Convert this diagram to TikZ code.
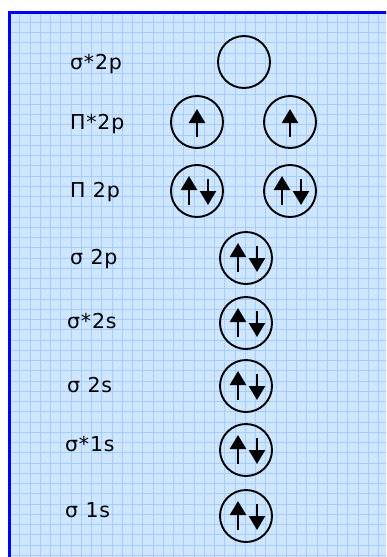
\documentclass[tikz,border=0pt]{standalone}
\usepackage{fontspec}
\setmainfont{DejaVu Sans}
\newfontfamily\levelfont[LetterSpace=4]{DejaVu Sans}
\usetikzlibrary{positioning,arrows.meta,calc}
\definecolor{paper}{RGB}{206,230,255}
\definecolor{gridline}{RGB}{165,205,255}
\definecolor{frameblue}{RGB}{0,0,255}
\tikzset{
  orbital/.style   = {draw=black, circle, line width=1.9pt,
                      minimum size=52pt, inner sep=0pt},
  level/.style     = {anchor=base west, inner sep=0pt,
                      font=\levelfont\fontsize{20.5}{24}\selectfont, text=black},
  spin/.style      = {line width=2.4pt,
                      -{Triangle[length=14pt,width=16pt]}}
}
% one electron (up) or a pair (up + down) inside an orbital
\newcommand{\upspin}[1]{%
  \draw[spin] ($(#1)+(0,15)$) -- ($(#1)+(0,-13)$);}
\newcommand{\pairspin}[1]{%
  \draw[spin] ($(#1)+(-8,14)$) -- ($(#1)+(-8,-15)$);
  \draw[spin] ($(#1)+(11,-12)$) -- ($(#1)+(11,14)$);}

\begin{document}
\begin{tikzpicture}[x=1pt,y=-1pt]

  % page and the squared paper
  \useasboundingbox (0,0) rectangle (386,557);
  \begin{scope}
    \clip (0,0) rectangle (386,557);
    \fill[paper] (9.5,12) rectangle (400,570);
    \foreach \k in {1,...,37}
      \draw[gridline, line width=1pt] ({9.5+10.25*\k},12) -- ({9.5+10.25*\k},570);
    \foreach \k in {1,...,54}
      \draw[gridline, line width=1pt] (9.5,{12+10.25*\k}) -- (400,{12+10.25*\k});
    \draw[frameblue, line width=3pt] (9.5,570) -- (9.5,12) -- (400,12);
  \end{scope}

  % energy levels, highest first
  \node[level] (Lsp2)  at (70,69)  {σ*2p};
  \node[level] (Lpi2a) at (70,129) {Π*2p};
  \node[level] (Lpi2)  at (70,197) {Π 2p};
  \node[level] (Ls2p)  at (70,264) {σ 2p};
  \node[level] (Lss2a) at (67,328) {σ*2s};
  \node[level] (Lss2)  at (67,392) {σ 2s};
  \node[level] (Lss1a) at (65,451) {σ*1s};
  \node[level] (Lss1)  at (65,517) {σ 1s};

  % orbitals
  \node[orbital] (Osp2)   at (244,62)  {};
  \node[orbital] (Opi2aL) at (197,122) {};
  \node[orbital] (Opi2aR) at (290,122) {};
  \node[orbital] (Opi2L)  at (197,191) {};
  \node[orbital] (Opi2R)  at (290,191) {};
  \node[orbital] (Os2p)   at (246,258) {};
  \node[orbital] (Oss2a)  at (246,323) {};
  \node[orbital] (Oss2)   at (246,386) {};
  \node[orbital] (Oss1a)  at (246,450) {};
  \node[orbital] (Oss1)   at (246,516) {};

  % electrons
  \upspin{Opi2aL}
  \upspin{Opi2aR}
  \pairspin{Opi2L}
  \pairspin{Opi2R}
  \pairspin{Os2p}
  \pairspin{Oss2a}
  \pairspin{Oss2}
  \pairspin{Oss1a}
  \pairspin{Oss1}

\end{tikzpicture}
\end{document}
